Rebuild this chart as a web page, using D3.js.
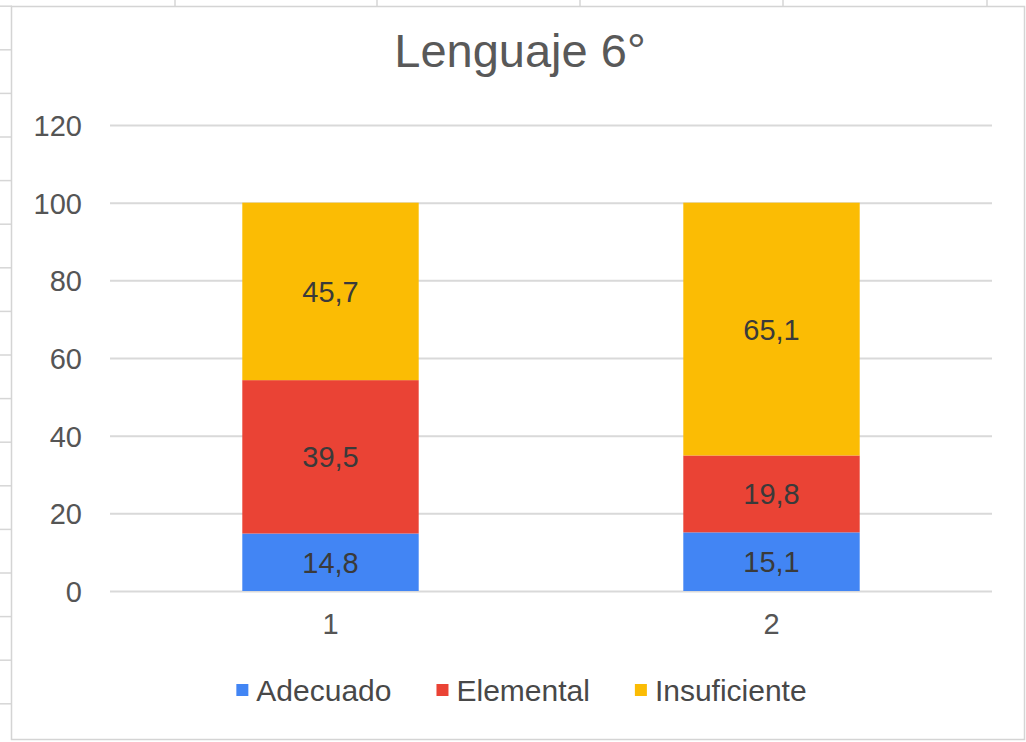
<!DOCTYPE html>
<html>
<head>
<meta charset="utf-8">
<script src="https://cdn.jsdelivr.net/npm/d3@7"></script>
<style>
  html, body { margin: 0; padding: 0; background: #ffffff; }
  svg { display: block; }
  text { font-family: "Liberation Sans", Arial, sans-serif; }
</style>
</head>
<body>
<svg id="chart" width="1026" height="742"></svg>
<script>
// ---- data ----
const categories = ["1", "2"];
const seriesNames = ["Adecuado", "Elemental", "Insuficiente"];
const adecuado = [14.8, 15.1];
const elemental = [39.5, 19.8];
const insuficiente = [45.7, 65.1];
const yTicks = [0, 20, 40, 60, 80, 100, 120];
const title = "Lenguaje 6°";
const colors = ["#4285F4", "#EA4335", "#FBBC04"];

const svg = d3.select("#chart");
const W = 1026, H = 742;

// ---- spreadsheet background decoration ----
const bg = svg.append("g");
bg.append("rect").attr("x", 0).attr("y", 0).attr("width", W).attr("height", H).attr("fill", "#ffffff");
const rowStep = 43.6, rowStart = 6.2;
for (let yy = rowStart; yy < H; yy += rowStep) {
  bg.append("line").attr("x1", 0).attr("x2", 12).attr("y1", yy).attr("y2", yy)
    .attr("stroke", "#d6d6d6").attr("stroke-width", 1.5);
}
[175, 377, 580, 783, 987].forEach(xx => {
  bg.append("line").attr("x1", xx).attr("x2", xx).attr("y1", 0).attr("y2", 7)
    .attr("stroke", "#d6d6d6").attr("stroke-width", 1.5);
});
// chart box
bg.append("rect").attr("x", 11.5).attr("y", 6.5).attr("width", 1013).attr("height", 733)
  .attr("fill", "#ffffff").attr("stroke", "#d4d4d4").attr("stroke-width", 1.5);

// ---- layout ----
const plot = { left: 110, right: 992, top: 125, bottom: 591 };

const x = d3.scaleBand().domain(categories).range([plot.left, plot.right]).paddingInner(0).paddingOuter(0);
const barW = x.bandwidth() * 0.4;
const y = d3.scaleLinear().domain([0, 120]).range([plot.bottom, plot.top]);

// ---- title ----
svg.append("text").attr("x", 520).attr("y", 67).attr("text-anchor", "middle")
  .attr("font-size", 47).attr("fill", "#595959").text(title);

// ---- grid + y axis ----
const yAxis = d3.axisLeft(y).tickValues(yTicks).tickSize(-(plot.right - plot.left)).tickPadding(28);
const gy = svg.append("g").attr("transform", `translate(${plot.left},0)`).call(yAxis);
gy.select(".domain").remove();
gy.selectAll(".tick line").attr("stroke", "#d9d9d9").attr("stroke-width", 2);
gy.selectAll(".tick text").attr("font-size", 29).attr("fill", "#555555")
  .attr("font-family", "'Liberation Sans', Arial, sans-serif").attr("dy", "0.36em");

// ---- stacked bars ----
const rows = categories.map((c, i) => ({ cat: c, Adecuado: adecuado[i], Elemental: elemental[i], Insuficiente: insuficiente[i] }));
const stack = d3.stack().keys(seriesNames)(rows);

const layers = svg.append("g").selectAll("g").data(stack).join("g").attr("fill", (d, i) => colors[i]);
layers.selectAll("rect").data(d => d).join("rect")
  .attr("x", d => x(d.data.cat) + (x.bandwidth() - barW) / 2)
  .attr("width", barW)
  .attr("y", d => y(d[1]))
  .attr("height", d => y(d[0]) - y(d[1]));

// labels
const fmt = v => d3.format(".1f")(v).replace(".", ",");
const labels = svg.append("g");
stack.forEach(layer => {
  layer.forEach(d => {
    labels.append("text")
      .attr("x", x(d.data.cat) + x.bandwidth() / 2)
      .attr("y", (y(d[0]) + y(d[1])) / 2)
      .attr("dy", "0.36em")
      .attr("text-anchor", "middle")
      .attr("font-size", 29)
      .attr("fill", "#3a3a3a")
      .text(fmt(d[1] - d[0]));
  });
});

// ---- x axis ----
const xAxis = d3.axisBottom(x).tickSize(0).tickPadding(22);
const gx = svg.append("g").attr("transform", `translate(0,${plot.bottom})`).call(xAxis);
gx.select(".domain").remove();
gx.selectAll(".tick text").attr("font-size", 29).attr("fill", "#555555")
  .attr("font-family", "'Liberation Sans', Arial, sans-serif");

// ---- legend ----
const legend = svg.append("g");
const sq = 12, gapSqText = 8, gapItems = 45, legendY = 690;
let cx = 0;
const items = seriesNames.map((name, i) => {
  const g = legend.append("g");
  g.append("rect").attr("x", 0).attr("y", legendY - sq / 2).attr("width", sq).attr("height", sq).attr("fill", colors[i]);
  const t = g.append("text").attr("x", sq + gapSqText).attr("y", legendY).attr("dy", "0.36em")
    .attr("font-size", 30).attr("fill", "#484848").text(name);
  const w = sq + gapSqText + t.node().getComputedTextLength();
  return { g, w };
});
const total = d3.sum(items, d => d.w) + gapItems * (items.length - 1);
cx = 521.5 - total / 2;
items.forEach(it => {
  it.g.attr("transform", `translate(${cx},0)`);
  cx += it.w + gapItems;
});
</script>
</body>
</html>
